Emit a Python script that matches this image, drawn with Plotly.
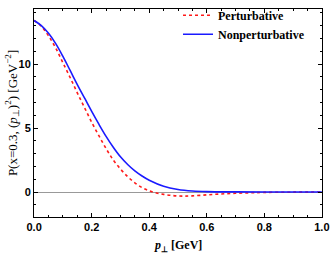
import plotly.graph_objects as go

p_blue = [0.0, 0.025, 0.05, 0.075, 0.1, 0.125, 0.15, 0.175, 0.2, 0.225, 0.25, 0.275, 0.3, 0.325, 0.35, 0.375, 0.4, 0.45, 0.5, 0.55, 0.6, 0.7, 0.8, 0.9, 1.0]
nonpert = [13.4, 13.0, 12.4, 11.6, 10.6, 9.5, 8.4, 7.35, 6.3, 5.3, 4.35, 3.5, 2.75, 2.15, 1.65, 1.25, 0.92, 0.45, 0.2, 0.08, 0.03, 0.01, 0.0, 0.0, 0.0]

p_red = [0.0, 0.025, 0.05, 0.075, 0.1, 0.125, 0.15, 0.175, 0.2, 0.225, 0.25, 0.275, 0.3, 0.325, 0.35, 0.375, 0.4, 0.425, 0.45, 0.475, 0.5, 0.525, 0.55, 0.6, 0.65, 0.7, 0.75, 0.8, 0.9, 1.0]
pert = [13.4, 12.95, 12.2, 11.25, 10.1, 8.95, 7.75, 6.6, 5.45, 4.4, 3.4, 2.5, 1.8, 1.2, 0.72, 0.35, 0.1, -0.07, -0.18, -0.26, -0.31, -0.32, -0.3, -0.22, -0.15, -0.1, -0.06, -0.03, -0.01, 0.0]

x_ticks = [0.0, 0.2, 0.4, 0.6, 0.8, 1.0]
x_labels = ["0.0", "0.2", "0.4", "0.6", "0.8", "1.0"]
y_ticks = [0, 5, 10]
y_labels = ["0", "5", "10"]

serif = "Liberation Serif"

fig = go.Figure()
fig.add_trace(go.Scatter(x=p_red, y=pert, mode="lines", name="Perturbative",
                         line=dict(color="#ff1a1a", width=1.6, dash="dot", shape="spline")))
fig.add_trace(go.Scatter(x=p_blue, y=nonpert, mode="lines", name="Nonperturbative",
                         line=dict(color="#1a1aff", width=1.6, shape="spline")))

axis_common = dict(showline=True, linecolor="black", linewidth=1, mirror="ticks",
                   ticks="inside", ticklen=4, tickcolor="black", showgrid=False,
                   automargin=False,
                   tickfont=dict(family="Liberation Sans", size=11, color="black", weight="bold"))

fig.update_xaxes(range=[-0.0005, 1.0005], tickvals=x_ticks, ticktext=x_labels,
                 minor=dict(ticks="inside", dtick=0.05, ticklen=2, tickcolor="black"),
                 zeroline=False, **axis_common)
fig.update_yaxes(range=[-1.95, 14.3], tickvals=y_ticks, ticktext=y_labels,
                 minor=dict(ticks="inside", dtick=1, ticklen=2, tickcolor="black"),
                 zeroline=True, zerolinecolor="#999999", zerolinewidth=1,
                 **axis_common)

fig.add_annotation(text="<b><i>p</i><sub>⊥</sub> [GeV]</b>", xref="paper", yref="paper",
                   x=0.5, y=-0.09, xanchor="center", yanchor="top", showarrow=False,
                   font=dict(family=serif, size=12, color="black"))
fig.add_annotation(text="P(x=0.3, (<i>p</i><sub>⊥</sub>)<sup>2</sup>) [GeV<sup>−2</sup>]", xref="paper", yref="paper",
                   x=-0.076, y=0.5, xanchor="center", yanchor="middle", textangle=-90, showarrow=False,
                   font=dict(family=serif, size=13, color="black"))

fig.update_layout(width=330, height=253, margin=dict(l=34, r=8, t=1, b=36),
                  plot_bgcolor="white", paper_bgcolor="white",
                  legend=dict(x=0.50, y=1.04, xanchor="left", yanchor="top", bgcolor="rgba(0,0,0,0)",
                              font=dict(family=serif, size=12, color="black", weight="bold"),
                              itemwidth=30, tracegroupgap=0))

fig.write_html("out.html", config={"displayModeBar": False},
               post_script="document.body.style.margin='0';document.body.style.padding='0';")
